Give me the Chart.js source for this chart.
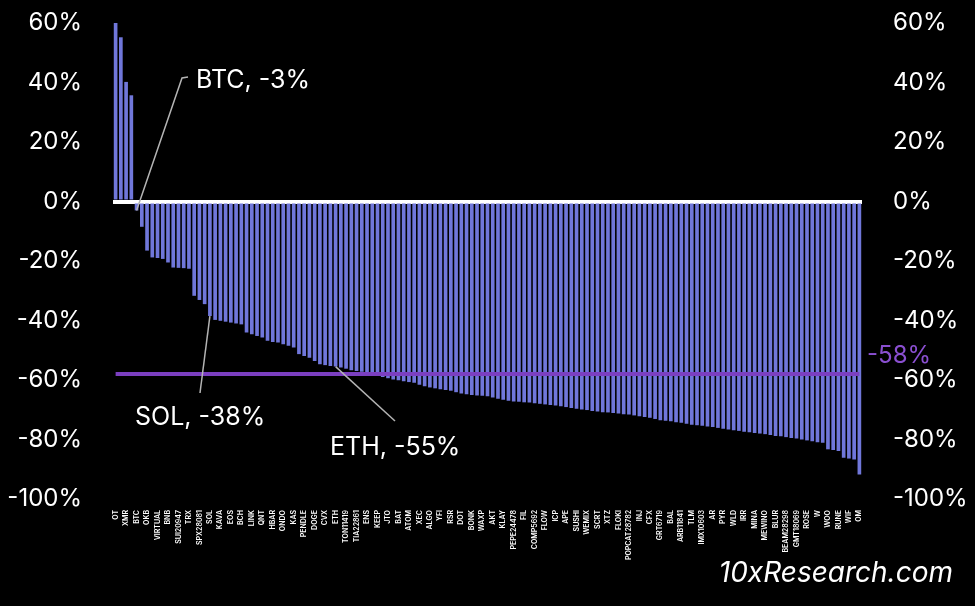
<!DOCTYPE html>
<html>
<head>
<meta charset="utf-8">
<script src="https://cdn.jsdelivr.net/npm/chart.js"></script>
<style>
  body { margin: 0; background: #000; }
  #wrap { width: 975px; height: 606px; position: relative; }
</style>
</head>
<body>
<div id="wrap"><canvas id="perfChart" width="975" height="606"></canvas></div>
<script>
// Every other bar carries a label on the chart
const coinLabels = ['OT', 'XMR', 'BTC', 'OKB', 'VIRTUAL', 'BNB', 'SUI20947', 'TRX', 'SPX28081', 'SOL',
    'KAVA', 'EOS', 'BCH', 'LINK', 'QNT', 'HBAR', 'ONDO', 'KAS', 'PENDLE', 'DOGE',
    'CVX', 'ETH', 'TON11419', 'TIA22861', 'ENS', 'KEEP', 'JTO', 'BAT', 'ATOM', 'XEC',
    'ALGO', 'YFI', 'RSR', 'DOT', 'BONK', 'WAXP', 'AKT', 'KLAY', 'PEPE24478', 'FIL',
    'COMP5692', 'FLOW', 'ICP', 'APE', 'SUSHI', 'WEMIX', 'SCRT', 'XTZ', 'FLOKI', 'POPCAT28782',
    'INJ', 'CFX', 'GRT6719', 'BAL', 'ARB11841', 'TLM', 'IMX10603', 'AR', 'PYR', 'WLD',
    'IRR', 'MINA', 'MEWINO', 'BLUR', 'BEAM28298', 'GMT18069', 'ROSE', 'W', 'WOO', 'RUNE',
    'WIF', 'OM'];

// performance in %
const perfValues = [60, 55.2, 40.2, 35.7, -3, -8.5, -16.5, -18.8, -19, -19.3,
    -20.5, -22.2, -22.3, -22.4, -22.6, -31.7, -33.1, -34.5, -38.5, -39.8,
    -40.1, -40.4, -40.7, -41, -41.3, -44, -44.6, -45.2, -45.7, -46.8,
    -47.2, -47.4, -48, -48.5, -49.1, -51.3, -51.9, -52.5, -53.6, -54.7,
    -55, -55.3, -55.5, -55.8, -56.2, -56.7, -57, -57.2, -57.5, -58,
    -58.6, -59, -59.4, -59.8, -60.1, -60.4, -60.7, -60.9, -61.6, -62.1,
    -62.5, -62.8, -63.1, -63.4, -63.6, -64.1, -64.5, -64.8, -65, -65.2,
    -65.3, -65.5, -65.9, -66.3, -66.6, -67, -67.2, -67.3, -67.5, -67.6,
    -67.8, -68, -68.2, -68.4, -68.6, -68.8, -69.1, -69.4, -69.7, -69.9,
    -70.1, -70.4, -70.6, -70.8, -70.9, -71.1, -71.3, -71.5, -71.6, -71.9,
    -72.2, -72.4, -72.7, -73.1, -73.5, -73.7, -73.9, -74.2, -74.4, -74.7,
    -75, -75.2, -75.4, -75.6, -75.8, -76.1, -76.4, -76.6, -76.9, -77.1,
    -77.4, -77.6, -77.8, -78, -78.2, -78.5, -78.8, -78.9, -79.2, -79.5,
    -79.7, -80, -80.3, -80.6, -80.9, -81.1, -83.3, -83.5, -83.9, -86.1,
    -86.4, -86.7, -91.8];

const medianValue = -58;
const yTicks = [60, 40, 20, 0, -20, -40, -60, -80, -100];

// call-outs: bar index, text, text position
const callouts = [
    { idx: 4, text: 'BTC, -3%', tx: 196, ty: 80, path: [[188, 77], [182, 78]] },
    { idx: 18, text: 'SOL, -38%', tx: 135, ty: 417, path: [[200, 393]] },
    { idx: 42, text: 'ETH, -55%', tx: 330, ty: 447, path: [[395, 421]] }
];

const categories = perfValues.map((v, i) => i % 2 === 0 ? coinLabels[i / 2] : '');

const FONT = 'Inter, "Open Sans", sans-serif';

const overlayPlugin = {
    id: 'overlay',
    afterDatasetsDraw(chart) {
        const ctx = chart.ctx;
        const xs = chart.scales.x, ys = chart.scales.y;
        ctx.save();
        // median label
        ctx.fillStyle = '#8a4fd0';
        ctx.font = '24px ' + FONT;
        ctx.textBaseline = 'middle';
        ctx.textAlign = 'left';
        ctx.fillText('-58%', 867, ys.getPixelForValue(medianValue) - 18);

        // call-outs
        callouts.forEach(c => {
            const bx = xs.getPixelForValue(c.idx);
            const by = ys.getPixelForValue(perfValues[c.idx]);
            ctx.strokeStyle = '#b4b4b4';
            ctx.lineWidth = 1.5;
            ctx.beginPath();
            ctx.moveTo(c.path[0][0], c.path[0][1]);
            for (let k = 1; k < c.path.length; k++) ctx.lineTo(c.path[k][0], c.path[k][1]);
            ctx.lineTo(bx, by);
            ctx.stroke();
            ctx.fillStyle = '#fff';
            ctx.font = '25px ' + FONT;
            ctx.textAlign = 'left';
            ctx.fillText(c.text, c.tx, c.ty);
        });

        // watermark
        ctx.font = 'italic 28px ' + FONT;
        ctx.fillStyle = '#fff';
        ctx.textAlign = 'right';
        ctx.fillText('10xResearch.com', 953, 574);
        ctx.restore();
    }
};

// keep the plot area free of the tick-padding chart.js adds at the ends
function fitSideAxis(scale) {
    scale.width = 113;
    scale.paddingTop = 0;
    scale.paddingBottom = 0;
}

const perfCtx = document.getElementById('perfChart').getContext('2d');
const perfChart = new Chart(perfCtx, {
    type: 'bar',
    data: {
        labels: categories,
        datasets: [{
            type: 'line',
            label: 'Median',
            data: perfValues.map(() => medianValue),
            borderColor: '#7b3fc0',
            borderWidth: 4,
            pointRadius: 0,
            yAxisID: 'y',
            order: 1
        }, {
            label: 'Performance',
            data: perfValues,
            backgroundColor: '#7077da',
            barPercentage: 0.7,
            categoryPercentage: 1.0,
            yAxisID: 'y',
            order: 2
        }]
    },
    options: {
        responsive: false,
        animation: false,
        layout: { padding: { top: 23, left: 0, right: 0, bottom: 0 } },
        plugins: {
            legend: { display: false },
            tooltip: { enabled: false }
        },
        scales: {
            x: {
                offset: true,
                grid: { display: false },
                border: { display: false },
                ticks: {
                    color: '#fff',
                    font: { size: 7, family: FONT, weight: '600' },
                    autoSkip: false,
                    maxRotation: 90,
                    minRotation: 90,
                    padding: 3
                },
                afterFit(scale) { scale.height = 107; }
            },
            y: {
                position: 'left',
                min: -100,
                max: 60,
                afterBuildTicks(scale) { scale.ticks = yTicks.map(v => ({ value: v })); },
                grid: {
                    drawTicks: false,
                    color: ctx => ctx.tick && ctx.tick.value === 0 ? '#fff' : 'transparent',
                    lineWidth: 4
                },
                border: { display: false },
                ticks: {
                    color: '#fff',
                    font: { size: 24, family: FONT },
                    padding: 31,
                    callback: v => v + '%'
                },
                afterFit: fitSideAxis
            },
            y2: {
                position: 'right',
                min: -100,
                max: 60,
                afterBuildTicks(scale) { scale.ticks = yTicks.map(v => ({ value: v })); },
                grid: { display: false, drawTicks: false },
                border: { display: false },
                ticks: {
                    color: '#fff',
                    font: { size: 24, family: FONT },
                    padding: 31,
                    callback: v => v + '%'
                },
                afterFit: fitSideAxis
            }
        }
    },
    plugins: [overlayPlugin]
});
</script>
</body>
</html>
